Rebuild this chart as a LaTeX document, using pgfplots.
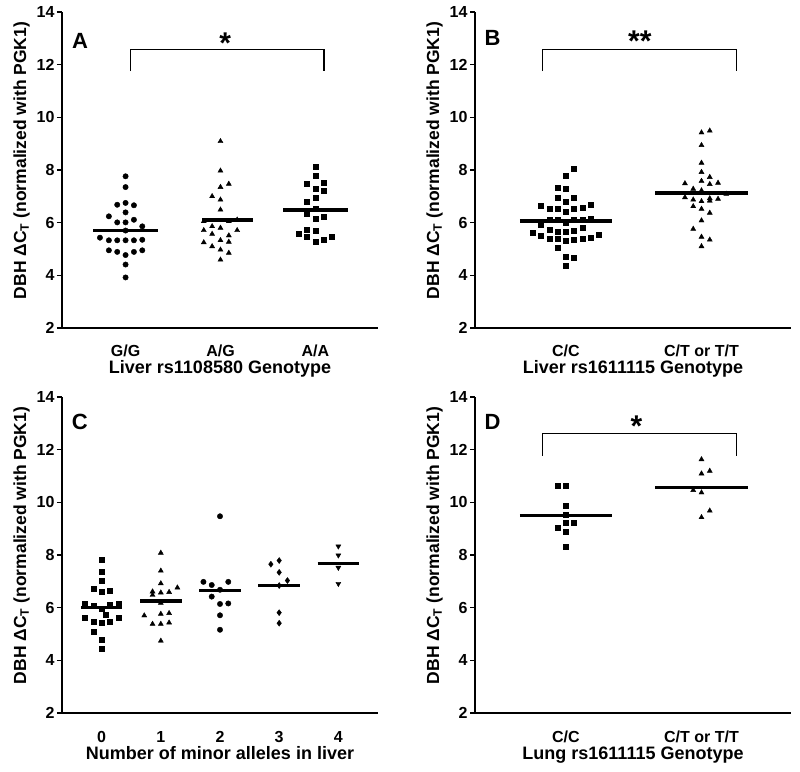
\documentclass[border=0pt]{standalone}
\usepackage{fontspec}
\setmainfont{Liberation Sans}
\usepackage{pgfplots}
\pgfplotsset{compat=1.18}
\pgfplotsset{
  panel/.style={
    scale only axis, width=316pt, height=316pt, anchor=south west,
    axis x line*=bottom, axis y line*=left,
    axis line style={-, line width=1.4pt},
    ymin=2, ymax=14, ytick={2,4,...,14},
    tick align=outside, major tick length=5pt,
    ytick style={line width=1.4pt, black},
    xtick style={draw=none},
    tick label style={font=\fontsize{16}{19}\selectfont\bfseries},
    xticklabel style={anchor=base, yshift=-24pt},
    yticklabel style={xshift=1pt},
    xlabel style={font=\fontsize{18}{21}\selectfont\bfseries,
      at={(axis description cs:0.5,0)}, anchor=base, yshift=-46pt},
    ylabel style={font=\fontsize{17.5}{21}\selectfont\bfseries,
      at={(ticklabel cs:0.53)}},
    /pgf/number format/assume math mode=true,
    ylabel={DBH ΔC\textsubscript{T} (normalized with PGK1)},
    clip=false,
  },
  pts/.style={only marks, black, mark options={fill=black, draw=black}},
  meanline/.style={black, line width=3.2pt, no marks},
  bracket/.style={black, line width=1.3pt, no marks},
}
\newcommand{\sigfont}{\fontsize{30}{30}\selectfont\bfseries}
\newcommand{\plab}{\fontsize{22}{22}\selectfont\bfseries}
\begin{document}
\begin{tikzpicture}
\useasboundingbox (0pt,0pt) rectangle (800pt,771pt);
% ---------------- Panel A
\begin{axis}[panel, at={(62pt,443pt)}, xmin=-0.67, xmax=2.66,
  xtick={0,1,2}, xticklabels={G/G,A/G,A/A},
  xlabel={Liver rs1108580 Genotype}]
\addplot[pts, mark=*, mark size=2.7pt] coordinates {
(0,7.76) (0,7.35) (-0.088,6.68) (0,6.75) (0.088,6.66) (-0.176,6.24) (0,6.39)
(-0.088,6.01) (0,6.01) (0.088,6.11) (0.176,5.86) (0,5.70) (-0.27,5.43)
(-0.176,5.33) (-0.088,5.33) (0,5.33) (0.088,5.33) (0.176,5.35) (-0.176,4.95)
(-0.088,4.89) (0,4.77) (0.088,4.89) (0.176,4.95) (0,4.41) (0,3.92)};
\addplot[pts, mark=triangle*, mark size=2.9pt] coordinates {
(1,9.09) (1,7.97) (1,7.35) (1.088,7.47) (0.912,7.0) (1,6.87) (1,6.49)
(0.824,6.05) (1.088,6.05) (1.176,6.11) (0.912,5.86) (1,5.80) (0.824,5.71)
(1.176,5.71) (0.912,5.57) (1.088,5.51) (0.824,5.25) (1,5.33) (1.088,5.27)
(0.912,5.10) (1,4.97) (1.088,4.85) (1,4.59)};
\addplot[pts, mark=square*, mark size=2.5pt] coordinates {
(2,8.14) (2,7.78) (1.912,7.47) (2.088,7.53) (2,7.28) (2.088,7.22) (2,6.94)
(1.912,6.81) (2,6.52) (1.912,6.34) (2.088,6.24) (2,6.14) (1.912,5.73) (2,5.70)
(1.824,5.57) (1.912,5.48) (2.176,5.48) (2,5.27) (2.088,5.35)};
\addplot[meanline] coordinates {(-0.34,5.70) (0.34,5.70)};
\addplot[meanline] coordinates {(0.81,6.10) (1.34,6.10)};
\addplot[meanline] coordinates {(1.66,6.48) (2.34,6.48)};
\addplot[bracket] coordinates {(0.05,11.75) (0.05,12.57) (2.09,12.57) (2.09,11.75)};
\node at (1.05,12.8) {\sigfont *};
\node at (-0.48,12.9) {\plab A};
\end{axis}
% ---------------- Panel B
\begin{axis}[panel, at={(475pt,443pt)}, xmin=-0.67, xmax=1.66,
  xtick={0,1}, xticklabels={C/C,C/T or T/T},
  xlabel={Liver rs1611115 Genotype}]
\addplot[pts, mark=square*, mark size=2.5pt] coordinates {
(0.061,8.04) (0,7.78) (-0.061,7.34) (0,7.30) (-0.061,6.94) (0.061,6.94) (0,6.80)
(-0.183,6.66) (-0.122,6.53) (-0.061,6.53) (0.061,6.53) (0.122,6.58) (0.183,6.70)
(0,6.41) (-0.122,6.11) (-0.061,6.11) (0.061,6.11) (0.122,6.11) (0.183,6.15)
(0,6.01) (-0.183,5.92) (0.122,5.82) (-0.122,5.73) (-0.061,5.67) (0,5.67)
(0.061,5.71) (-0.244,5.63) (0.244,5.56) (-0.183,5.51) (-0.122,5.39) (-0.061,5.39)
(0,5.33) (0.061,5.35) (0.122,5.38) (0.183,5.43) (-0.061,5.04) (0,4.72)
(0.061,4.68) (0,4.38)};
\addplot[pts, mark=triangle*, mark size=2.9pt] coordinates {
(1.061,9.49) (1,9.42) (1,8.94) (1,8.27) (1,7.92) (1.061,7.73) (1,7.58)
(0.878,7.49) (1.061,7.46) (1.122,7.51) (0.939,7.28) (1,7.22) (1.183,7.09)
(0.878,6.96) (1.061,6.92) (0.939,6.87) (1,6.81) (1.122,6.90) (1.061,6.83)
(0.939,6.62) (1,6.52) (1.061,6.37) (1,6.08) (0.939,5.76) (1,5.46) (1.061,5.35)
(1,5.10)};
\addplot[meanline] coordinates {(-0.34,6.06) (0.34,6.06)};
\addplot[meanline] coordinates {(0.66,7.13) (1.34,7.13)};
\addplot[bracket] coordinates {(-0.17,11.75) (-0.17,12.57) (1.26,12.57) (1.26,11.75)};
\node at (0.545,12.9) {\sigfont **};
\node at (-0.54,13.0) {\plab B};
\end{axis}
% ---------------- Panel C
\begin{axis}[panel, at={(62pt,58pt)}, xmin=-0.67, xmax=4.67,
  xtick={0,1,2,3,4}, xticklabels={0,1,2,3,4},
  xlabel={Number of minor alleles in liver}]
\addplot[pts, mark=square*, mark size=2.5pt] coordinates {
(0,7.83) (0,7.36) (0,7.01) (-0.14,6.72) (0,6.61) (0.14,6.64) (-0.28,6.15)
(-0.14,6.08) (0.14,6.11) (0.28,6.15) (0,5.97) (-0.28,5.63) (0.07,5.72)
(0.28,5.60) (-0.14,5.48) (0,5.43) (0.14,5.46) (-0.14,5.09) (0,4.79) (0,4.46)};
\addplot[pts, mark=triangle*, mark size=2.9pt] coordinates {
(1,8.08) (1,7.40) (1,6.92) (0.86,6.61) (0.86,6.48) (1,6.57) (1.14,6.59)
(1.28,6.76) (1,6.18) (0.72,5.70) (1,5.76) (1.14,5.79) (0.86,5.38) (1,5.38)
(1.14,5.43) (1,4.74)};
\addplot[pts, mark=*, mark size=2.7pt] coordinates {
(2,9.47) (1.72,6.98) (1.86,6.86) (2.14,6.98) (2,6.68) (1.86,6.42) (2,6.14)
(2.14,6.16) (2,5.71) (2,5.16)};
\addplot[pts, mark=diamond*, mark size=3pt] coordinates {
(2.86,7.65) (3,7.79) (3,7.34) (3.14,7.03) (3,6.84) (3,5.81) (3,5.41)};
\addplot[pts, mark=triangle*, mark size=2.9pt, mark options={rotate=180}] coordinates {
(4,8.33) (4,7.99) (4,7.52) (4,6.91)};
\addplot[meanline] coordinates {(-0.35,6.00) (0.35,6.00)};
\addplot[meanline] coordinates {(0.65,6.25) (1.35,6.25)};
\addplot[meanline] coordinates {(1.65,6.66) (2.35,6.66)};
\addplot[meanline] coordinates {(2.65,6.84) (3.35,6.84)};
\addplot[meanline] coordinates {(3.65,7.69) (4.35,7.69)};
\node at (-0.37,13.04) {\plab C};
\end{axis}
% ---------------- Panel D
\begin{axis}[panel, at={(475pt,58pt)}, xmin=-0.67, xmax=1.66,
  xtick={0,1}, xticklabels={C/C,C/T or T/T},
  xlabel={Lung rs1611115 Genotype}]
\addplot[pts, mark=square*, mark size=2.5pt] coordinates {
(-0.061,10.65) (0,10.62) (0,9.86) (0,9.54) (0,9.23) (0.061,9.23) (-0.061,9.04)
(0,8.87) (0,8.33)};
\addplot[pts, mark=triangle*, mark size=2.9pt] coordinates {
(1,11.63) (1,11.09) (1.061,11.19) (0.939,10.46) (1,10.37) (1.061,9.68) (1,9.43)};
\addplot[meanline] coordinates {(-0.34,9.51) (0.34,9.51)};
\addplot[meanline] coordinates {(0.66,10.57) (1.34,10.57)};
\addplot[bracket] coordinates {(-0.17,11.76) (-0.17,12.61) (1.26,12.61) (1.26,11.76)};
\node at (0.52,12.9) {\sigfont *};
\node at (-0.54,13.05) {\plab D};
\end{axis}
\end{tikzpicture}
\end{document}
